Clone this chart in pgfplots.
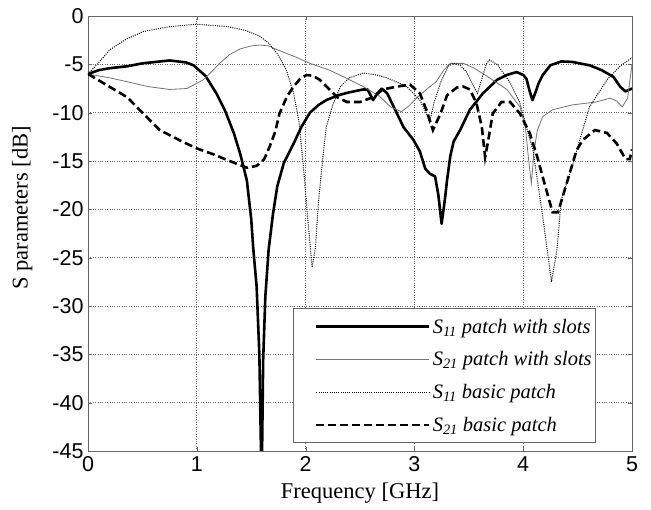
\documentclass[border=0pt]{standalone}
\usepackage{fontspec}
\setmainfont{Liberation Serif}
\setsansfont{Liberation Sans}
\usepackage{pgfplots}
\pgfplotsset{compat=1.18}
\begin{document}
\begin{tikzpicture}
\begin{axis}[
  scale only axis,
  width=544pt, height=435pt,
  xmin=0, xmax=5, ymin=-45, ymax=0,
  xtick={0,1,2,3,4,5},
  xticklabels={0,1,2,3,4,5},
  ytick={-45,-40,-35,-30,-25,-20,-15,-10,-5,0},
  yticklabels={-45,-40,-35,-30,-25,-20,-15,-10,-5,0},
  tick label style={font=\sffamily\fontsize{21.5}{22}\selectfont},
  xticklabel style={yshift=-2pt},
  yticklabel style={xshift=-1pt},
  tick align=inside,
  major tick length=4pt,
  tick style={black!60},
  axis line style={black!60, line width=0.8pt},
  grid=major,
  major grid style={black!60, dotted, line width=0.7pt},
  xlabel={Frequency [GHz]},
  ylabel={S parameters [dB]},
  label style={font=\fontsize{22.5}{23}\selectfont},
  xlabel style={at={(axis description cs:0.5,-0.097)}, anchor=center},
  ylabel style={at={(axis description cs:-0.121,0.559)}, anchor=center, rotate=0},
  clip=true,
  legend style={at={(0.934,0.018)}, anchor=south east, draw=black!60, line width=0.8pt,
    font=\itshape\fontsize{20.5}{21}\selectfont, row sep=13pt,
    inner xsep=2pt, inner ysep=8pt, fill=white},
  legend cell align=left,
  legend image code/.code={\path (0pt,0pt); \draw[#1] (20pt,0pt) -- (133pt,0pt);},
]
% S11 patch with slots
\addplot[black, line width=2.6pt, line join=round] coordinates {
(0,-6.0)(0.1,-5.6)(0.2,-5.4)(0.36,-5.2)(0.5,-4.9)(0.75,-4.6)(0.9,-4.8)(0.97,-5.1)
(1.08,-6.2)(1.18,-8.0)(1.26,-9.8)(1.34,-12.1)(1.40,-14.3)(1.46,-17)(1.50,-21)
(1.52,-24.2)(1.55,-28)(1.575,-35)(1.59,-45)(1.60,-45)(1.61,-35.6)(1.63,-29)
(1.66,-24.2)(1.70,-20.5)(1.74,-17.6)(1.80,-15.2)(1.89,-13.2)(1.96,-11.5)(2.04,-10.0)
(2.12,-9.2)(2.19,-8.7)(2.30,-8.2)(2.40,-7.9)(2.53,-7.6)(2.57,-7.6)(2.62,-8.7)
(2.66,-8.0)(2.70,-7.5)(2.75,-8.0)(2.81,-9.4)(2.90,-11.5)(2.99,-12.8)(3.05,-14.0)
(3.10,-15.8)(3.14,-16.3)(3.19,-16.6)(3.22,-18.5)(3.25,-21.5)(3.28,-19)(3.30,-17.0)
(3.33,-14.5)(3.36,-13.0)(3.42,-11.8)(3.51,-9.7)(3.63,-8.0)(3.76,-6.6)(3.85,-6.1)
(3.94,-5.8)(4.00,-6.1)(4.03,-6.5)(4.06,-7.8)(4.085,-8.7)(4.11,-8.0)(4.14,-7.0)
(4.18,-6.1)(4.25,-5.1)(4.35,-4.7)(4.45,-4.75)(4.61,-5.1)(4.72,-5.6)(4.83,-6.3)
(4.89,-7.3)(4.94,-7.8)(5.0,-7.5)
};
\addlegendentry{S\textsubscript{11} patch with slots}
% S21 patch with slots
\addplot[black!55, line width=0.8pt] coordinates {
(0,-6.0)(0.2,-6.4)(0.36,-6.8)(0.55,-7.3)(0.75,-7.6)(0.91,-7.5)(1.06,-6.6)(1.15,-5.6)
(1.21,-4.9)(1.30,-4.0)(1.40,-3.4)(1.50,-3.1)(1.58,-3.0)(1.66,-3.1)(1.74,-3.5)(1.90,-4.2)
(2.04,-4.9)(2.22,-5.6)(2.35,-6.3)(2.53,-7.3)(2.68,-8.3)(2.78,-9.4)(2.88,-9.9)(2.95,-9.3)
(3.02,-8.5)(3.11,-7.6)(3.20,-6.8)(3.27,-5.6)(3.33,-4.9)(3.45,-4.9)(3.55,-5.4)(3.69,-6.4)
(3.85,-7.6)(3.97,-9.4)(4.02,-11.5)(4.05,-14.9)(4.075,-17.3)(4.10,-14)(4.13,-11.8)
(4.18,-10.4)(4.27,-9.7)(4.45,-9.2)(4.67,-8.9)(4.80,-8.5)(4.86,-8.8)(4.91,-9.4)
(4.96,-8.5)(5.0,-5.0)
};
\addlegendentry{S\textsubscript{21} patch with slots}
% S11 basic patch
\addplot[black, line width=1.0pt, dash pattern=on 1pt off 1.2pt] coordinates {
(0,-6.0)(0.1,-4.8)(0.2,-3.5)(0.35,-2.4)(0.51,-1.6)(0.75,-1.1)(1.0,-0.85)(1.28,-1.1)
(1.45,-1.5)(1.58,-2.1)(1.66,-2.8)(1.74,-3.9)(1.82,-5.5)(1.89,-8.0)(1.94,-11)(1.98,-15.6)
(2.02,-21)(2.06,-26)(2.09,-24)(2.12,-19)(2.16,-14.5)(2.19,-11.5)(2.25,-9.2)(2.32,-7.3)
(2.40,-6.4)(2.53,-5.9)(2.65,-6.1)(2.75,-6.4)(2.93,-7.3)(3.05,-8.7)(3.10,-9.8)(3.14,-11.0)
(3.18,-9.0)(3.24,-6.9)(3.31,-5.2)(3.36,-4.9)(3.42,-5.1)(3.48,-5.8)(3.53,-7.0)(3.58,-8.0)
(3.62,-6.5)(3.66,-5.0)(3.69,-4.55)(3.76,-5.0)(3.88,-6.9)(3.97,-9.0)(4.03,-11.5)
(4.09,-13.9)(4.18,-20.8)(4.26,-27.5)(4.31,-24.2)(4.35,-19)(4.45,-15.6)(4.52,-12.8)
(4.61,-9.4)(4.77,-6.6)(4.89,-5.2)(5.0,-4.3)
};
\addlegendentry{S\textsubscript{11} basic patch}
% S21 basic patch
\addplot[black, line width=2.6pt, dash pattern=on 8pt off 4pt] coordinates {
(0,-6.0)(0.15,-7.0)(0.36,-8.4)(0.5,-10.0)(0.66,-11.8)(0.85,-12.9)(1.0,-13.7)(1.15,-14.3)
(1.28,-14.9)(1.46,-15.7)(1.55,-15.5)(1.62,-14.8)(1.67,-13.5)(1.72,-12)(1.76,-10.1)
(1.83,-8.3)(1.89,-7.3)(1.95,-6.5)(2.01,-6.1)(2.07,-6.2)(2.13,-6.6)(2.22,-7.6)(2.29,-8.4)
(2.38,-8.9)(2.50,-8.9)(2.62,-8.4)(2.71,-7.6)(2.84,-7.3)(2.96,-7.1)(3.05,-8.0)(3.11,-9.7)
(3.17,-11.8)(3.24,-10.1)(3.30,-8.2)(3.39,-7.4)(3.45,-7.3)(3.51,-7.6)(3.57,-9.0)
(3.62,-11.5)(3.65,-14.6)(3.68,-12.8)(3.72,-10.1)(3.80,-8.9)(3.88,-8.9)(3.97,-10.1)
(4.06,-12.1)(4.13,-14.6)(4.20,-17.5)(4.27,-20.3)(4.32,-20.3)(4.40,-17.3)(4.49,-13.9)
(4.55,-12.8)(4.66,-11.8)(4.77,-12.1)(4.86,-13.2)(4.94,-14.8)(4.98,-14.8)(5.0,-13.8)
};
\addlegendentry{S\textsubscript{21} basic patch}
\end{axis}
\pgfresetboundingbox
\path[use as bounding box] (current axis.south west) ++(-88pt,-59pt) rectangle ++(651pt,510pt);
\end{tikzpicture}
\end{document}
